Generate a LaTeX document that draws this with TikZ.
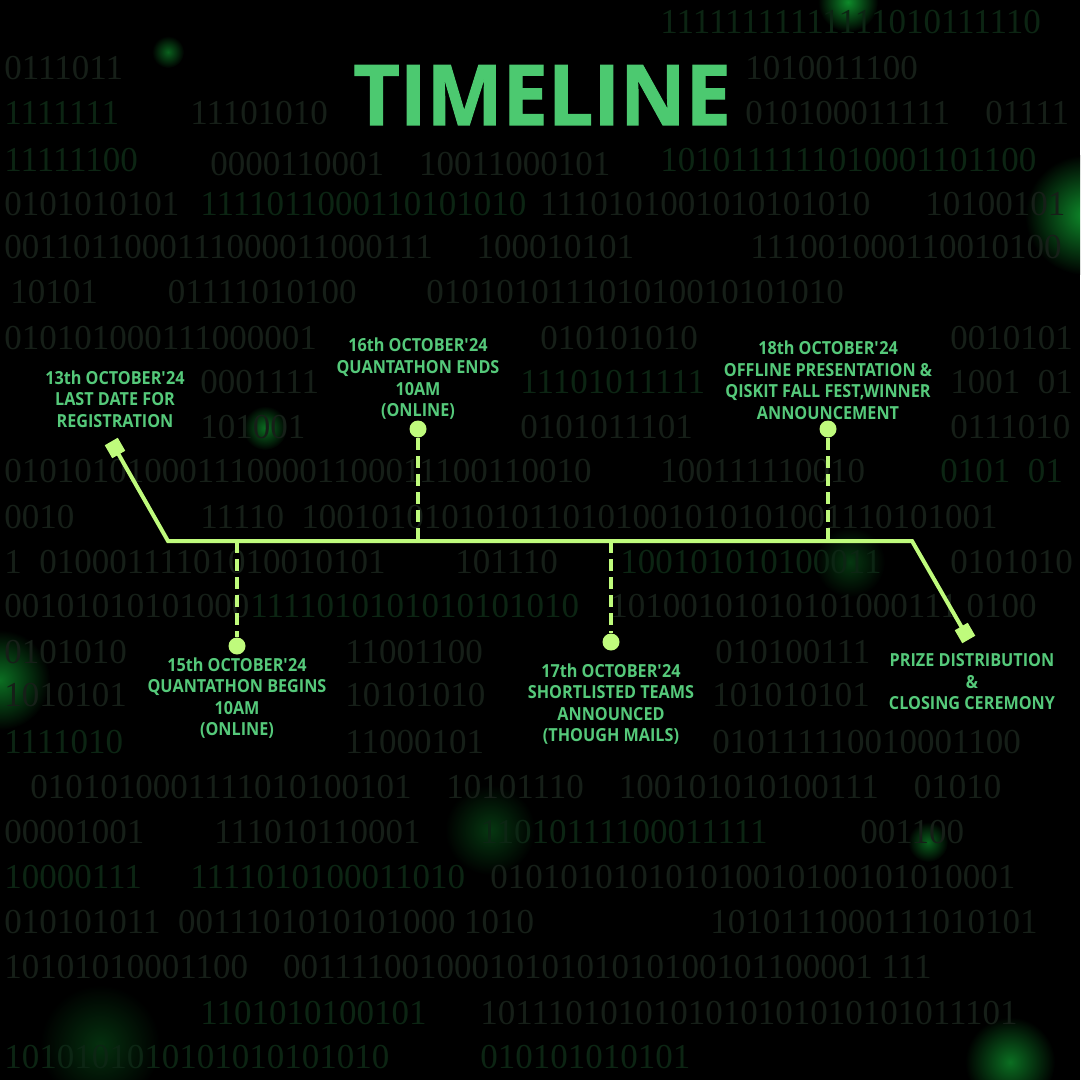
\documentclass[tikz,border=0pt]{standalone}
\usepackage{fontspec}
\setmainfont{Open Sans}
\newfontfamily\labfont{Open Sans}[FakeStretch=0.9]
\newfontfamily\titlefont{Open Sans}[FakeStretch=0.96,FakeBold=1.2]
\newfontfamily\binfamily{Liberation Serif}
\definecolor{bg}{HTML}{000000}
\definecolor{labgreen}{HTML}{55C97A}
\definecolor{titlegreen}{HTML}{4CC970}
\definecolor{lime}{HTML}{BFFB7C}
\definecolor{bingray}{HTML}{161F18}
\definecolor{binblur}{HTML}{0C2513}
\definecolor{glow}{HTML}{0E8A2A}
\tikzset{
  bin/.style={anchor=west, inner sep=0pt, text=bingray, font=\binfamily\fontsize{17.5}{18}\selectfont},
  binb/.style={bin, text=binblur},
  lab/.style={align=center, inner sep=0pt, text=labgreen, font=\labfont\bfseries\fontsize{9}{10.8}\selectfont},
  tline/.style={draw=lime, line width=2pt},
  dline/.style={draw=lime, line width=2pt, dash pattern=on 6pt off 3pt},
  dot/.style={circle, fill=lime, minimum size=8.5pt, inner sep=0pt},
  sqmark/.style={rectangle, fill=lime, minimum size=7.5pt, inner sep=0pt, rotate=30},
}
\newcommand{\ap}{\textquotesingle}
\begin{document}
\begin{tikzpicture}[x=0.5pt,y=-0.5pt]
\useasboundingbox (0,0) rectangle (1080,1080);
\fill[bg] (0,0) rectangle (1080,1080);
\begin{scope}
\clip (0,0) rectangle (1080,1080);
% glows
\shade[inner color=glow, outer color=bg] (848,2) circle (30);
\shade[inner color=glow!70!bg, outer color=bg] (168,52) circle (16);
\shade[inner color=glow!80!bg, outer color=bg] (265,428) circle (22);
\shade[inner color=glow, outer color=bg] (1085,215) circle (60);
\shade[inner color=glow!80!bg, outer color=bg] (0,680) circle (50);
\shade[inner color=glow!70!bg, outer color=bg] (928,842) circle (20);
\shade[inner color=glow!80!bg, outer color=bg] (1010,1062) circle (45);
\shade[inner color=glow!40!bg, outer color=bg] (490,830) circle (45);
\shade[inner color=glow!40!bg, outer color=bg] (850,562) circle (35);
\shade[inner color=glow!35!bg, outer color=bg] (100,1045) circle (60);
\end{scope}
% binary background
\node[binb] (b01) at (660,22) {11111111111111010111110};
\node[bin] (b02) at (4,68) {0111011};
\node[bin] (b03) at (745,68) {1010011100};
\node[binb] (b04) at (4,113) {1111111};
\node[bin] (b05) at (190,113) {11101010};
\node[bin] (b06) at (745,113) {010100011111};
\node[bin] (b07) at (985,113) {01111};
\node[binb] (b08) at (4,160) {11111100};
\node[bin] (b09) at (210,164) {0000110001\quad 10011000101};
\node[binb] (b10) at (660,160) {1010111111010001101100};
\node[bin] (b11) at (4,204) {0101010101};
\node[binb] (b12) at (200,204) {1111011000110101010};
\node[bin] (b13) at (540,204) {1110101001010101010};
\node[bin] (b14) at (925,204) {10100101};
\node[bin] (b15) at (4,247) {0011011000111000011000111\quad\ 100010101};
\node[bin] (b16) at (750,247) {111001000110010100};
\node[bin] (b17) at (10,292) {10101\qquad 01111010100\qquad 010101011101010010101010};
\node[bin] (b18) at (4,338) {010101000111000001};
\node[bin] (b19) at (540,338) {010101010};
\node[bin] (b20) at (950,338) {0010101};
\node[bin] (b21) at (200,382) {0001111};
\node[binb] (b22) at (520,382) {11101011111};
\node[bin] (b23) at (950,382) {1001\ \ 01};
\node[bin] (b24) at (200,427) {101001};
\node[bin] (b25) at (520,427) {0101011101};
\node[bin] (b26) at (950,427) {0111010};
\node[bin] (b27) at (4,471) {0101010100011100001100011100110010};
\node[bin] (b28) at (660,471) {100111110010};
\node[binb] (b29) at (940,471) {0101\ \ 01};
\node[bin] (b30) at (4,517) {0010};
\node[bin] (b31) at (200,517) {11110\ \ 1001010101010110101001010101001110101001};
\node[bin] (b32) at (4,562) {1\ \ 01000111101010010101\qquad 101110};
\node[binb] (b33) at (620,562) {100101010100011};
\node[bin] (b34) at (950,562) {0101010};
\node[bin] (b35) at (4,606) {00101010101000};
\node[binb] (b36) at (250,606) {1111010101010101010};
\node[bin] (b37) at (610,606) {10100101010101000111\ 0100};
\node[bin] (b38) at (4,652) {0101010};
\node[bin] (b39) at (345,652) {11001100};
\node[bin] (b40) at (715,652) {010100111};
\node[bin] (b41) at (4,695) {1010101};
\node[bin] (b42) at (345,695) {10101010};
\node[bin] (b43) at (712,695) {101010101};
\node[binb] (b44) at (4,742) {1111010};
\node[bin] (b45) at (345,742) {11000101};
\node[bin] (b46) at (712,742) {010111110010001100};
\node[bin] (b47) at (30,787) {0101010001111010100101\quad 10101110\quad 100101010100111\quad 01010};
\node[bin] (b48) at (4,832) {00001001\qquad 111010110001};
\node[binb] (b49) at (480,832) {11010111100011111};
\node[bin] (b50) at (860,832) {001100};
\node[binb] (b51) at (4,877) {10000111};
\node[binb] (b52) at (190,877) {1111010100011010};
\node[bin] (b53) at (490,877) {010101010101010010100101010001};
\node[bin] (b54) at (4,922) {010101011\ \ 0011101010101000\ 1010};
\node[bin] (b55) at (710,922) {1010111000111010101};
\node[bin] (b56) at (4,967) {10101010001100\quad 0011110010001010101010100101100001\ 111};
\node[binb] (b57) at (200,1013) {1101010100101};
\node[bin] (b58) at (480,1013) {1011101010101010101010101011101};
\node[binb] (b59) at (4,1057) {1010101010101010101010};
\node[binb] (b60) at (480,1057) {010101010101};
% title
\node[inner sep=0pt, text depth=0pt, anchor=base, text=titlegreen, font=\titlefont\bfseries\fontsize{42}{44}\selectfont] (title) at (542,125) {TIMELINE};
% timeline skeleton
\coordinate (tl) at (168,541);
\coordinate (tr) at (912,541);
\coordinate (j15) at (237,541);
\coordinate (j16) at (418,541);
\coordinate (j17) at (611,541);
\coordinate (j18) at (828,541);
\node[dot] (c16) at (418,429) {};
\node[dot] (c18) at (828,429) {};
\node[dot] (c15) at (237,646) {};
\node[dot] (c17) at (611,642) {};
\coordinate (m13c) at (115,448);
\coordinate (mpc) at (965,633);
\draw[tline, line join=miter] (m13c) -- (tl) -- (tr) -- (mpc);
\draw[dline] (c16) -- (j16);
\draw[dline] (c18) -- (j18);
\draw[dline] (j15) -- (c15);
\draw[dline] (j17) -- (c17);
\node[sqmark] (m13) at (m13c) {};
\node[sqmark] (mprize) at (mpc) {};
% labels
\node[lab, anchor=south] (l13) at (115,428) {13th OCTOBER\ap24\\LAST DATE FOR\\REGISTRATION};
\node[lab, anchor=south] (l16) at (418,420) {16th OCTOBER\ap24\\QUANTATHON ENDS\\10AM\\(ONLINE)};
\node[lab, anchor=south] (l18) at (828,420) {18th OCTOBER\ap24\\OFFLINE PRESENTATION \&\\QISKIT FALL FEST,WINNER\\ANNOUNCEMENT};
\node[lab, anchor=north] (l15) at (237,657) {15th OCTOBER\ap24\\QUANTATHON BEGINS\\10AM\\(ONLINE)};
\node[lab, anchor=north] (l17) at (611,663) {17th OCTOBER\ap24\\SHORTLISTED TEAMS\\ANNOUNCED\\(THOUGH MAILS)};
\node[lab, anchor=north] (lp) at (972,653) {PRIZE DISTRIBUTION\\\&\\CLOSING CEREMONY};
\end{tikzpicture}
\end{document}
